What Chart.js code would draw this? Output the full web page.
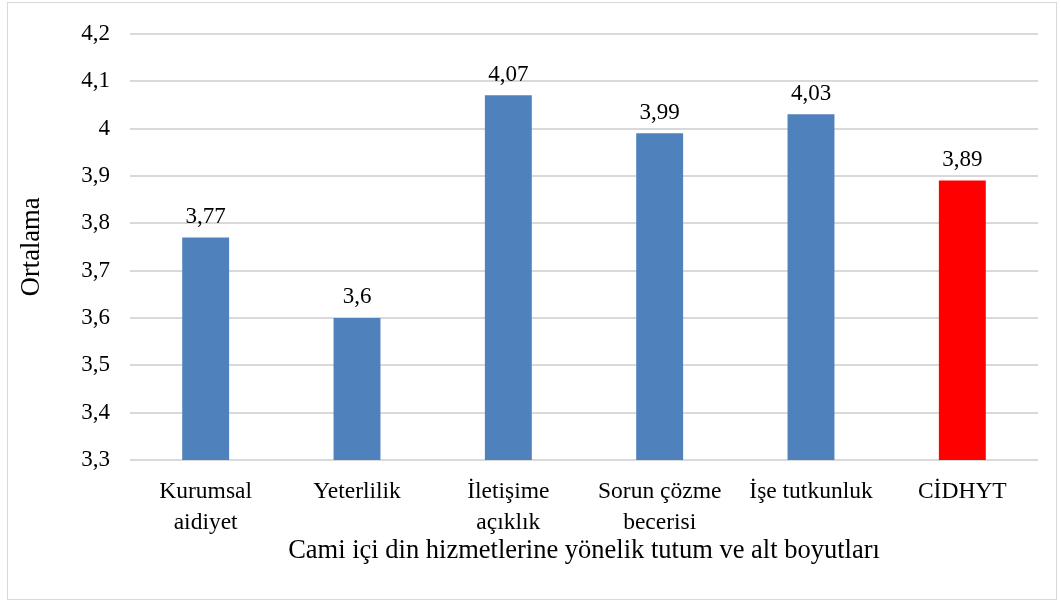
<!DOCTYPE html>
<html>
<head>
<meta charset="utf-8">
<script src="https://cdn.jsdelivr.net/npm/chart.js@4"></script>
<style>
  body { margin: 0; background: #fff; }
  #frame { position: absolute; left: 7px; top: 2px; width: 1048px; height: 596px; border: 1px solid #d9d9d9; }
  #chart { position: absolute; left: 0; top: 0; }
</style>
</head>
<body>
<div id="frame"></div>
<canvas id="chart" width="1061" height="603"></canvas>
<script>
const categories = [
    ['Kurumsal', 'aidiyet'],
    'Yeterlilik',
    ['İletişime', 'açıklık'],
    ['Sorun çözme', 'becerisi'],
    'İşe tutkunluk',
    'CİDHYT'
];
const means = [3.77, 3.6, 4.07, 3.99, 4.03, 3.89];
const barColors = ['#4f81bd', '#4f81bd', '#4f81bd', '#4f81bd', '#4f81bd', '#ff0000'];
const yMin = 3.3;
const yMax = 4.2;
const yStep = 0.1;

const fontFamily = "'Liberation Serif', 'Times New Roman', serif";
const commaNum = v => String(Math.round(v * 100) / 100).replace('.', ',');

// value labels above each bar
const valueLabels = {
    id: 'valueLabels',
    afterDatasetsDraw(chart) {
        const ctx = chart.ctx;
        const meta = chart.getDatasetMeta(0);
        ctx.save();
        ctx.font = '23px ' + fontFamily;
        ctx.fillStyle = '#000';
        ctx.textAlign = 'center';
        ctx.textBaseline = 'bottom';
        meta.data.forEach((bar, i) => {
            ctx.fillText(commaNum(means[i]), bar.x, bar.y - 9);
        });
        ctx.restore();
    }
};

new Chart(document.getElementById('chart').getContext('2d'), {
    type: 'bar',
    data: {
        labels: categories,
        datasets: [{
            data: means,
            backgroundColor: barColors,
            categoryPercentage: 1,
            barPercentage: 0.31
        }]
    },
    options: {
        responsive: false,
        animation: false,
        layout: { padding: { top: 33, right: 23, bottom: 20, left: 0 } },
        plugins: { legend: { display: false }, tooltip: { enabled: false } },
        scales: {
            x: {
                grid: { display: false },
                border: { display: false },
                ticks: {
                    color: '#000',
                    padding: 9,
                    maxRotation: 0,
                    font: { family: fontFamily, size: 23.5, lineHeight: 1.3 }
                },
                title: {
                    display: true,
                    text: 'Cami içi din hizmetlerine yönelik tutum ve alt boyutları',
                    color: '#000',
                    font: { family: fontFamily, size: 26.5 },
                    padding: { top: 0, bottom: 16 }
                },
                afterFit(scale) { scale.height = 123; }
            },
            y: {
                min: yMin,
                max: yMax,
                grid: { color: '#d9d9d9', lineWidth: 2, drawTicks: false },
                border: { display: false },
                ticks: {
                    stepSize: yStep,
                    color: '#000',
                    padding: 20,
                    font: { family: fontFamily, size: 23 },
                    callback: v => commaNum(v)
                },
                title: {
                    display: true,
                    text: 'Ortalama',
                    color: '#000',
                    font: { family: fontFamily, size: 26.5 },
                    padding: { top: 16, bottom: 0 }
                },
                afterFit(scale) { scale.width = 130; }
            }
        }
    },
    plugins: [valueLabels]
});
</script>
</body>
</html>
